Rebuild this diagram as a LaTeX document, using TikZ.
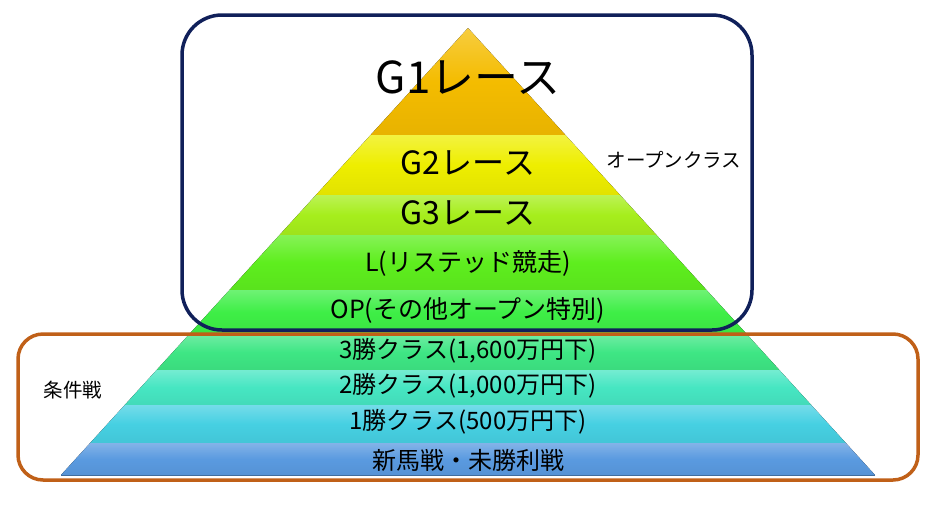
\documentclass[tikz,border=0pt]{standalone}
\usepackage{fontspec}
\setmainfont{Noto Sans CJK JP}
\begin{document}
\begin{tikzpicture}[x=1pt,y=-1pt,
  lbl/.style={inner sep=0pt,text=black},
  frame/.style={rounded corners=#1,line width=3.5pt}]
\useasboundingbox (0,0) rectangle (937,504);
\definecolor{cG1}{HTML}{F4BC00}
\definecolor{cG2}{HTML}{EEEE00}
\definecolor{cG3}{HTML}{A6EE1C}
\definecolor{cL}{HTML}{5EEE1E}
\definecolor{cOP}{HTML}{3EEE46}
\definecolor{cC3}{HTML}{3EE684}
\definecolor{cC2}{HTML}{46E6C2}
\definecolor{cC1}{HTML}{46D0E2}
\definecolor{cNB}{HTML}{5A9AE0}
\definecolor{navy}{HTML}{10205A}
\definecolor{rust}{HTML}{C06018}
\foreach \t/\b/\c/\n in {28/135/cG1/g1,135/195/cG2/g2,195/235/cG3/g3,235/290/cL/l,290/335/cOP/op,335/370/cC3/c3,370/405/cC2/c2,405/443/cC1/c1,443/475/cNB/nb}{
  \pgfmathsetmacro\lt{468-0.9105*(\t-28)}
  \pgfmathsetmacro\rt{468+0.9105*(\t-28)}
  \pgfmathsetmacro\lb{468-0.9105*(\b-28)}
  \pgfmathsetmacro\rb{468+0.9105*(\b-28)}
  \fill[top color=\c!75!white,bottom color=\c!95!black,middle color=\c] (\lt,\t) -- (\rt,\t) -- (\rb,\b) -- (\lb,\b) -- cycle;
  \draw[\c!70!black,line width=0.6pt] (\lb,\b) -- (\rb,\b);
}
\node[lbl,font=\fontsize{44}{44}\selectfont] (g1) at (468,78) {G1レース};
\node[lbl,font=\fontsize{32}{32}\selectfont] (g2) at (468,163) {G2レース};
\node[lbl,font=\fontsize{32}{32}\selectfont] (g3) at (468,213) {G3レース};
\node[lbl,font=\fontsize{25}{25}\selectfont] (l) at (468,263) {L(リステッド競走)};
\node[lbl,font=\fontsize{25}{25}\selectfont] (op) at (468,310) {OP(その他オープン特別)};
\node[lbl,font=\fontsize{24}{24}\selectfont] (c3) at (468,351) {3勝クラス(1,600万円下)};
\node[lbl,font=\fontsize{24}{24}\selectfont] (c2) at (468,386) {2勝クラス(1,000万円下)};
\node[lbl,font=\fontsize{24}{24}\selectfont] (c1) at (468,422) {1勝クラス(500万円下)};
\node[lbl,font=\fontsize{24}{24}\selectfont] (nb) at (468,460) {新馬戦・未勝利戦};
\draw[frame=40pt,navy] (182,15) rectangle (752,330);
\draw[frame=25pt,rust] (18,334) rectangle (918,480);
\node[lbl,font=\fontsize{19.5}{20}\selectfont] (open) at (674,160) {オープンクラス};
\node[lbl,font=\fontsize{19.5}{20}\selectfont] (cond) at (73,390) {条件戦};
\end{tikzpicture}
\end{document}
